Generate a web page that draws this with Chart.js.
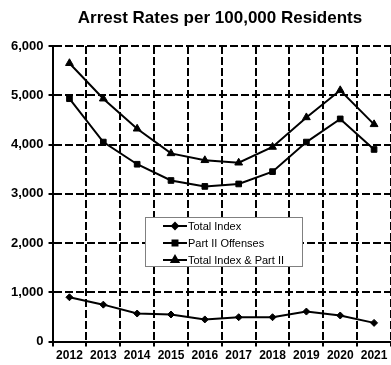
<!DOCTYPE html>
<html>
<head>
<meta charset="utf-8">
<script src="https://cdn.jsdelivr.net/npm/chart.js@4/dist/chart.umd.min.js"></script>
<style>
  html, body { margin: 0; padding: 0; background: #fff; }
  #wrap { width: 391px; height: 365px; position: relative; }
</style>
</head>
<body>
<div id="wrap"><canvas id="ch-arrests"></canvas></div>
<script>
const years = ['2012','2013','2014','2015','2016','2017','2018','2019','2020','2021'];
const totalIndex = [900, 750, 570, 550, 450, 495, 495, 610, 530, 380];
const partTwo = [4930, 4050, 3600, 3270, 3150, 3200, 3450, 4050, 4520, 3900];
const totalAndPartTwo = [5650, 4930, 4320, 3820, 3680, 3630, 3950, 4550, 5100, 4410];
const yTicks = [0, 1000, 2000, 3000, 4000, 5000, 6000];

const FONT = 'Arial, "Liberation Sans", sans-serif';

// title centred over the plot, legend box drawn inside the plot
const boxPlugin = {
  id: 'boxPlugin',
  afterDraw(chart) {
    const ctx = chart.ctx;
    ctx.save();
    ctx.fillStyle = '#000';
    ctx.font = 'bold 17px ' + FONT;
    ctx.textAlign = 'center';
    ctx.textBaseline = 'middle';
    ctx.fillText('Arrest Rates per 100,000 Residents', 220, 18);

    const bx = 145, by = 217, bw = 157, bh = 49;
    ctx.fillStyle = '#fff';
    ctx.fillRect(bx, by, bw, bh);
    ctx.strokeStyle = '#808080';
    ctx.lineWidth = 1;
    ctx.strokeRect(bx + 0.5, by + 0.5, bw, bh);

    ctx.font = '11px ' + FONT;
    ctx.textAlign = 'left';
    chart.data.datasets.forEach((ds, i) => {
      const y = by + 9 + i * 17;
      ctx.strokeStyle = '#000';
      ctx.fillStyle = '#000';
      ctx.lineWidth = 2;
      ctx.beginPath();
      ctx.moveTo(163, y);
      ctx.lineTo(187, y);
      ctx.stroke();
      Chart.helpers.drawPoint(ctx, { pointStyle: ds.pointStyle, radius: ds.pointRadius - 0.5, borderWidth: 1 }, 175, y);
      ctx.fillStyle = '#000';
      ctx.fillText(ds.label, 188, y + 1);
    });
    ctx.restore();
  }
};

const noPad = s => { s.paddingLeft = 0; s.paddingRight = 0; };

const ctxEl = document.getElementById('ch-arrests');
new Chart(ctxEl, {
  type: 'line',
  data: {
    labels: years,
    datasets: [
      { label: 'Total Index', data: totalIndex, pointStyle: 'rectRot', pointRadius: 3.5 },
      { label: 'Part II Offenses', data: partTwo, pointStyle: 'rect', pointRadius: 4 },
      { label: 'Total Index & Part II', data: totalAndPartTwo, pointStyle: 'triangle', pointRadius: 4.5 }
    ].map(d => Object.assign(d, {
      borderColor: '#000', backgroundColor: '#000', borderWidth: 2,
      pointBorderWidth: 1, tension: 0, fill: false
    }))
  },
  options: {
    responsive: true, maintainAspectRatio: false, animation: false,
    layout: { autoPadding: false, padding: { top: 46, right: 0, left: 6, bottom: 0 } },
    plugins: { legend: { display: false }, title: { display: false }, tooltip: { enabled: false } },
    scales: {
      x: {
        offset: true,
        afterFit: noPad,
        grid: { offset: true, color: '#000', lineWidth: 2, tickLength: 5, tickColor: '#000', tickWidth: 2 },
        border: { display: true, color: '#000', width: 2, dash: [8, 3] },
        ticks: { color: '#000', font: { family: FONT, size: 12, weight: 'bold' }, padding: 2, maxRotation: 0, autoSkip: false }
      },
      y: {
        min: 0, max: 6000,
        afterBuildTicks: s => { s.ticks = yTicks.map(v => ({ value: v })); },
        grid: { color: '#000', lineWidth: 2, tickLength: 4, tickColor: '#000', tickWidth: 2 },
        border: { display: true, color: '#000', width: 2, dash: [8, 3] },
        ticks: { color: '#000', font: { family: FONT, size: 13, weight: 'bold' }, padding: 5,
                 callback: v => Number(v).toLocaleString('en-US') }
      }
    }
  },
  plugins: [boxPlugin]
});
</script>
</body>
</html>
